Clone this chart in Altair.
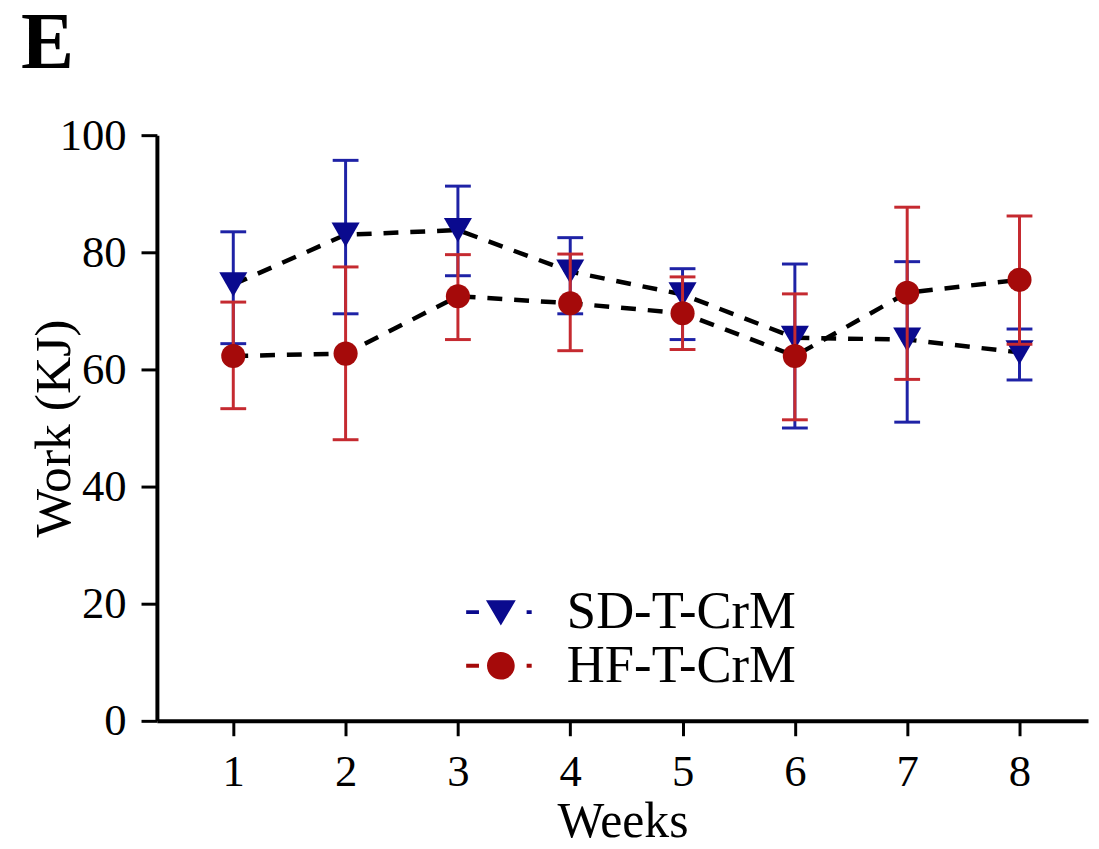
import altair as alt
import pandas as pd

weeks = [1, 2, 3, 4, 5, 6, 7, 8]
series_names = ["SD-T-CrM", "HF-T-CrM"]

sd_mean = [74.5, 83.0, 83.8, 76.7, 72.8, 65.4, 65.1, 62.9]
sd_upper = [83.5, 95.7, 91.3, 82.5, 77.2, 78.0, 78.4, 66.9]
sd_lower = [64.4, 69.5, 76.0, 69.5, 65.1, 50.0, 51.0, 58.2]

hf_mean = [62.3, 62.7, 72.5, 71.3, 69.6, 62.3, 73.1, 75.3]
hf_upper = [71.5, 77.5, 79.6, 79.7, 75.8, 72.9, 87.7, 86.2]
hf_lower = [53.3, 48.0, 65.1, 63.2, 63.4, 51.4, 58.3, 64.3]

y_ticks = [0, 20, 40, 60, 80, 100]

BLUE_MARK = "#0A0A8E"
BLUE_BAR = "#1E22A6"
RED_MARK = "#A50A0A"
RED_BAR = "#C52A30"
FONT = "Liberation Serif"

rows = []
for name, means, los, his in [
    (series_names[0], sd_mean, sd_lower, sd_upper),
    (series_names[1], hf_mean, hf_lower, hf_upper),
]:
    for w, m, lo, hi in zip(weeks, means, los, his):
        rows.append({"week": w, "series": name, "mean": m, "lower": lo, "upper": hi})
df = pd.DataFrame(rows)

xscale = alt.Scale(domain=[0.32, 8.61], nice=False, zero=False)
yscale = alt.Scale(domain=[0, 100], nice=False)
xaxis = alt.Axis(
    values=weeks, format="d", title="Weeks", tickSize=15, labelPadding=14,
    labelFontSize=45, titleFontSize=50, titleBaseline="alphabetic", titleY=117,
    labelFlush=False, grid=False,
)
yaxis = alt.Axis(
    values=y_ticks, title="Work (KJ)", tickSize=16, labelPadding=15,
    labelFontSize=45, titleFontSize=52, titleBaseline="alphabetic", titleX=-88,
    grid=False,
)


def X():
    return alt.X("week:Q", scale=xscale, axis=xaxis)


def Y(field):
    return alt.Y(f"{field}:Q", scale=yscale, axis=yaxis)


base = alt.Chart(df)

lines = base.mark_line(color="black", strokeDash=[15, 12], strokeWidth=4.5).encode(
    x=X(), y=Y("mean"), detail="series:N"
)


def series_layers(name, bar_color, mark_color, shape, size):
    b = base.transform_filter(alt.datum.series == name)
    rule = b.mark_rule(color=bar_color, strokeWidth=3).encode(
        x=X(), y=Y("lower"), y2="upper:Q"
    )
    cap_hi = b.mark_tick(color=bar_color, orient="horizontal", size=26, thickness=3, opacity=1).encode(
        x=X(), y=Y("upper")
    )
    cap_lo = b.mark_tick(color=bar_color, orient="horizontal", size=26, thickness=3, opacity=1).encode(
        x=X(), y=Y("lower")
    )
    pts = b.mark_point(filled=True, shape=shape, size=size, color=mark_color, opacity=1).encode(
        x=X(), y=Y("mean")
    )
    return [rule, cap_hi, cap_lo, pts]


tri_path = ("M-2.33,-0.13H-1.47V0.13H-2.33Z "
            "M-1,-0.8L1,-0.8L0,0.9Z "
            "M1.73,-0.13H2.07V0.13H1.73Z")
circ_path = ("M-2.33,-0.13H-1.47V0.13H-2.33Z "
             "M-0.93,0A0.93,0.93 0 1,0 0.93,0A0.93,0.93 0 1,0 -0.93,0Z "
             "M1.73,-0.13H2.07V0.13H1.73Z")

legend = alt.Legend(
    title=None, orient="none", legendX=320, legendY=454,
    labelFont=FONT, labelFontSize=53, labelColor="black", labelLimit=0,
    symbolSize=900, labelOffset=40, rowPadding=0, symbolStrokeWidth=0,
)

legend_layer = base.transform_filter("false").mark_point(filled=True, opacity=1, size=900).encode(
    shape=alt.Shape("series:N", scale=alt.Scale(domain=series_names, range=[tri_path, circ_path]),
                    legend=legend),
    color=alt.Color("series:N", scale=alt.Scale(domain=series_names, range=[BLUE_MARK, RED_MARK]),
                    legend=legend),
)

layers = [lines]
layers += series_layers(series_names[0], BLUE_BAR, BLUE_MARK, "triangle-down", 800)
layers += series_layers(series_names[1], RED_BAR, RED_MARK, "circle", 590)
layers.append(legend_layer)

chart = (
    alt.layer(*layers)
    .resolve_scale(shape="independent", color="independent")
    .properties(
        width=938,
        height=590,
        background="white",
        autosize=alt.AutoSizeParams(type="none"),
        padding={"left": 150, "top": 125, "right": 3, "bottom": 126},
        title=alt.TitleParams(
            "E", anchor="start", frame="group", dx=-137, fontSize=80, font=FONT,
            fontWeight="bold", color="black", baseline="alphabetic", offset=-34,
        ),
    )
    .configure_view(stroke=None)
    .configure_axis(
        grid=False, domainColor="black", domainWidth=4, tickColor="black", tickWidth=3,
        labelFont=FONT, titleFont=FONT, labelColor="black", titleColor="black",
        titleFontWeight="normal",
    )
)

chart.save("out.html", embed_options={"renderer": "svg", "actions": False})
